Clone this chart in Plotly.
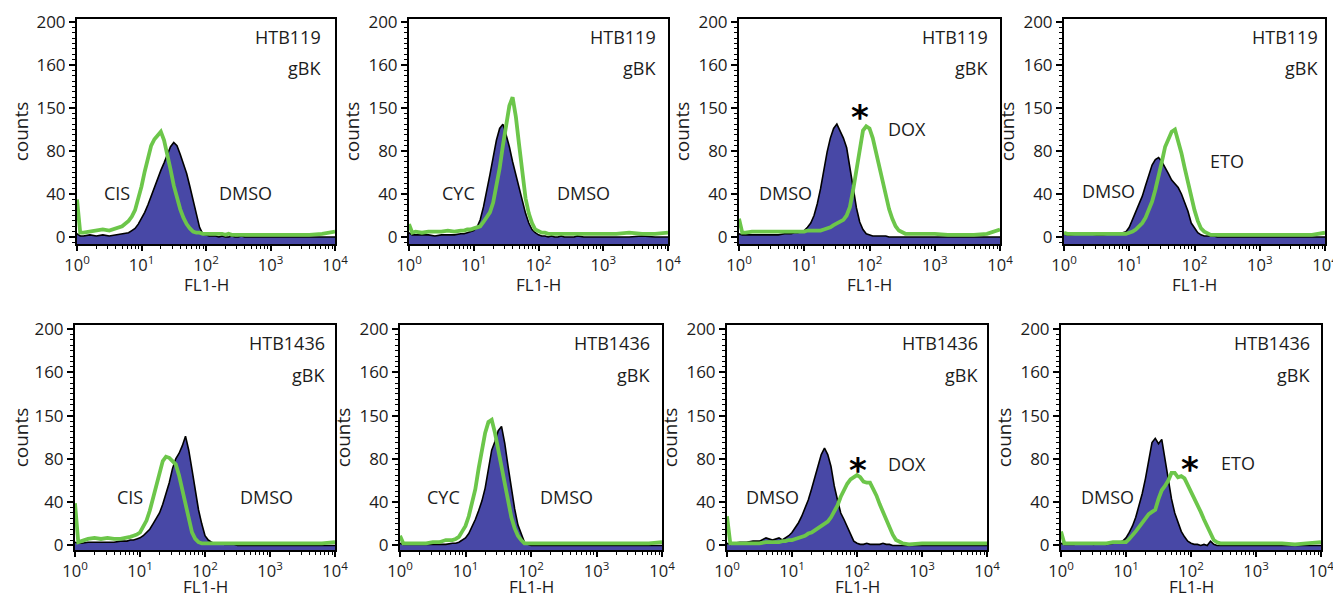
import plotly.graph_objects as go

W, H = 1341, 595

# Channel positions (log10 of FL1-H) shared by all histograms
LOG_X = [0.0, 0.05, 0.1, 0.2, 0.3, 0.4, 0.5, 0.6, 0.7, 0.8,
         0.85, 0.9, 0.95, 1.0, 1.05, 1.1, 1.15, 1.2, 1.25, 1.3,
         1.35, 1.4, 1.45, 1.5, 1.55, 1.6, 1.65, 1.7, 1.75, 1.8,
         1.85, 1.9, 1.95, 2.0, 2.05, 2.1, 2.15, 2.2, 2.25, 2.3,
         2.35, 2.4, 2.45, 2.5, 2.55, 2.6, 2.7, 2.8, 3.0, 3.2,
         3.4, 3.6, 3.8, 4.0]
FL1 = [10 ** v for v in LOG_X]

CELL_LINES = ["HTB119", "HTB119", "HTB119", "HTB119",
              "HTB1436", "HTB1436", "HTB1436", "HTB1436"]
TREATMENTS = ["CIS", "CYC", "DOX", "ETO", "CIS", "CYC", "DOX", "ETO"]
SIGNIFICANT = [False, False, True, False, False, False, True, True]

# DMSO (filled) histograms
HTB119_DMSO_CIS = [3,1,1,2,1,2,1,2,3,4, 6,8,12,17,23,30,38,46,55,62, 69,76,84,88,85,77,69,59,47,35,
                   23,9,3,2,1,1,1,0,1,0, 0,1,0,0,1,0,0,0,0,0, 0,0,0,0]
HTB119_DMSO_CYC = [4,2,2,2,2,1,2,2,2,3, 3,4,5,6,9,16,28,42,58,74, 90,101,105,95,84,70,58,45,33,22,
                   13,7,4,2,1,1,0,1,0,0, 1,0,0,0,0,1,0,0,0,0, 0,1,0,0]
HTB119_DMSO_DOX = [3,2,2,2,2,2,2,2,3,3, 4,4,5,6,9,13,20,31,45,63, 79,92,101,105,98,92,83,64,44,27,
                   14,7,3,2,1,1,1,1,1,0, 0,0,0,0,0,0,0,0,0,0, 0,0,0,0]
HTB119_DMSO_ETO = [3,2,2,3,4,3,2,2,3,3, 4,4,5,9,16,23,31,38,48,58, 67,72,74,70,65,59,53,49,46,40,
                   32,24,13,8,4,2,1,1,1,1, 0,0,0,0,0,0,0,0,0,0, 0,0,0,0]
HTB1436_DMSO_CIS = [3,2,2,3,3,3,3,3,4,4, 5,5,6,7,9,12,15,20,25,30, 38,47,58,71,80,85,92,101,88,70,
                    50,33,20,9,5,3,2,2,2,1, 1,1,1,0,0,0,0,0,0,0, 0,0,0,0]
HTB1436_DMSO_CYC = [2,1,1,1,1,1,1,1,1,2, 2,3,5,7,11,17,24,32,41,53, 72,88,96,106,110,94,73,53,34,19,
                    10,3,1,0,0,0,0,0,0,0, 0,0,0,0,0,0,0,0,0,0, 0,0,0,0]
HTB1436_DMSO_DOX = [2,1,2,3,3,4,4,7,5,7, 5,7,9,12,16,21,27,34,42,52, 63,75,84,90,84,73,55,42,30,24,
                    17,10,4,2,1,1,2,1,1,1, 1,2,1,1,0,0,0,0,0,0, 0,0,0,0]
HTB1436_DMSO_ETO = [2,1,1,1,2,2,1,2,1,2, 2,3,4,7,12,18,26,36,48,62, 80,95,99,94,98,79,59,43,30,21,
                    13,8,4,2,1,1,0,1,0,4, 1,0,0,0,0,0,0,0,0,0, 0,0,0,0]

# Drug-treated (green line) histograms
HTB119_CIS = [35,4,4,5,6,7,6,8,10,15, 19,25,35,47,61,75,85,91,95,98, 90,78,63,48,36,26,18,12,8,5,
              4,4,3,3,3,3,3,3,3,2, 3,2,2,2,2,2,2,2,2,2, 2,2,3,5]
HTB119_CYC = [12,4,5,4,5,5,5,6,5,6, 6,7,7,8,9,10,14,18,23,32, 46,64,85,104,122,130,112,86,58,36,
              22,13,7,5,4,4,3,3,3,3, 3,3,3,3,3,3,3,3,3,3, 4,3,3,4]
HTB119_DOX = [17,4,4,5,5,5,5,5,5,5, 5,5,5,5,6,6,6,6,6,7, 8,9,11,13,14,16,20,28,44,62,
              84,99,103,101,92,78,64,50,38,26, 17,10,6,4,3,3,3,3,3,2, 2,2,3,7]
HTB119_ETO = [4,3,3,3,3,3,3,3,3,3, 3,3,3,4,5,7,10,13,18,25, 33,44,56,70,84,92,98,100,90,78,
              64,50,37,25,15,8,5,3,2,2, 2,2,2,2,2,2,2,2,2,2, 2,2,2,4]
HTB1436_CIS = [39,3,4,6,7,6,7,6,6,7, 8,9,10,12,17,23,32,43,55,66, 78,82,81,78,75,65,52,36,23,12,
               6,3,2,2,2,2,2,2,2,2, 2,2,2,2,2,2,2,2,2,2, 2,2,2,3]
HTB1436_CYC = [9,2,2,2,2,2,3,3,5,5, 6,8,13,18,27,38,52,71,90,104, 114,116,104,88,72,55,40,26,16,9,
               5,2,2,2,2,2,2,2,2,2, 2,2,2,2,2,2,2,2,2,2, 2,2,2,3]
HTB1436_DOX = [27,2,2,2,2,2,2,3,3,3, 4,4,5,5,6,7,8,9,11,12, 14,16,18,20,22,26,31,37,45,52,
               57,61,63,65,63,59,58,58,52,46, 38,31,23,16,10,5,2,1,2,2, 2,2,2,2]
HTB1436_ETO = [13,2,2,2,2,2,2,2,2,3, 3,3,3,3,6,9,13,17,21,26, 29,31,33,43,51,55,60,67,67,63,
               64,62,56,50,44,37,31,24,17,10, 5,3,2,2,2,2,2,2,2,2, 2,1,2,3]

DMSO = [HTB119_DMSO_CIS, HTB119_DMSO_CYC, HTB119_DMSO_DOX, HTB119_DMSO_ETO,
        HTB1436_DMSO_CIS, HTB1436_DMSO_CYC, HTB1436_DMSO_DOX, HTB1436_DMSO_ETO]
TREATED = [HTB119_CIS, HTB119_CYC, HTB119_DOX, HTB119_ETO,
           HTB1436_CIS, HTB1436_CYC, HTB1436_DOX, HTB1436_ETO]

X_TICKVALS = [1, 10, 100, 1000, 10000]
X_TICKTEXT = ["10<sup>0</sup>", "10<sup>1</sup>", "10<sup>2</sup>", "10<sup>3</sup>", "10<sup>4</sup>"]
X_MINOR = [2, 3, 4, 5, 6, 7, 8, 9, 20, 30, 40, 50, 60, 70, 80, 90,
           200, 300, 400, 500, 600, 700, 800, 900, 2000, 3000, 4000, 5000, 6000, 7000, 8000, 9000]
Y_TICKVALS = [0, 40, 80, 120, 160, 200]
Y_TICKTEXT = ["0", "40", "80", "150", "160", "200"]

# ---- styling / layout ----
FONT = "Open Sans"
TXT = "#1c1c1c"
BLUE = "#4848a6"
GREEN = "#6cc64a"
OFFSET = 8  # page body margin of the html page

# panel boxes in screen pixels: (left, right, top, bottom)
BOXES = [(77, 335, 19, 244), (409, 668, 19, 244), (739, 1000, 19, 244), (1064, 1325, 19, 244),
         (75, 335, 325, 550), (400, 662, 325, 550), (727, 987, 325, 550), (1061, 1321, 325, 550)]
YRANGES = [[-6.5, 202.8]] * 4 + [[-4.2, 203.7]] * 4
XTITLE_Y = [284] * 4 + [586] * 4

# label positions in pixels: DMSO label, treatment label, asterisk
LABEL_POS = [
    ((245, 193), (117, 193), None),
    ((583, 193), (458, 193), None),
    ((785, 193), (907, 129), (860, 110)),
    ((1108, 191), (1227, 161), None),
    ((266, 497), (130, 497), None),
    ((566, 497), (443, 497), None),
    ((772, 497), (907, 464), (858, 463)),
    ((1107, 497), (1238, 463), (1190, 462)),
]
NAME_Y = [(37, 68)] * 4 + [(343, 375)] * 4
NAME_RIGHT = [323, 658, 990, 1320, 327, 652, 980, 1312]


def px(x):
    return (x - OFFSET) / W


def py(y):
    return 1 - (y - OFFSET) / H


fig = go.Figure()
layout = dict(
    width=W, height=H, margin=dict(l=0, r=0, t=0, b=0, autoexpand=False),
    paper_bgcolor="white", plot_bgcolor="white", showlegend=False,
    font=dict(family=FONT, size=17, color=TXT),
)
annotations = []

for i in range(8):
    n = i + 1
    xa = "x" if n == 1 else f"x{n}"
    ya = "y" if n == 1 else f"y{n}"
    l, r, t, b = BOXES[i]
    y_min = YRANGES[i][0]

    fig.add_trace(go.Scatter(x=FL1, y=[y_min] * len(FL1), xaxis=xa, yaxis=ya,
                             mode="lines", line=dict(width=0, color="rgba(0,0,0,0)"),
                             hoverinfo="skip"))
    fig.add_trace(go.Scatter(x=FL1, y=DMSO[i], xaxis=xa, yaxis=ya, mode="lines",
                             fill="tonexty", fillcolor=BLUE,
                             line=dict(color="black", width=1.6), name="DMSO"))
    fig.add_trace(go.Scatter(x=FL1, y=TREATED[i], xaxis=xa, yaxis=ya, mode="lines",
                             line=dict(color=GREEN, width=3.8), name=TREATMENTS[i]))

    layout["xaxis" if n == 1 else f"xaxis{n}"] = dict(
        type="log", range=[0, 4], domain=[px(l), px(r)], anchor=ya, automargin=False,
        tickmode="array", tickvals=X_TICKVALS, ticktext=X_TICKTEXT,
        ticks="outside", ticklen=5, tickwidth=1.5, tickcolor="black",
        minor=dict(ticks="outside", ticklen=3, tickwidth=1, tickcolor="black",
                   tickmode="array", tickvals=X_MINOR, showgrid=False),
        showline=True, linecolor="black", linewidth=2, mirror=True,
        showgrid=False, zeroline=False, fixedrange=True,
        tickfont=dict(size=16.5, color=TXT),
    )
    layout["yaxis" if n == 1 else f"yaxis{n}"] = dict(
        range=YRANGES[i], domain=[py(b), py(t)], anchor=xa, automargin=False,
        tickmode="array", tickvals=Y_TICKVALS, ticktext=Y_TICKTEXT,
        ticks="outside", ticklen=6, tickwidth=1.5, tickcolor="black",
        minor=dict(ticks="outside", ticklen=3, tickwidth=1, tickcolor="black", dtick=5, showgrid=False),
        showline=True, linecolor="black", linewidth=2, mirror=True,
        showgrid=False, zeroline=False, fixedrange=True,
        tickfont=dict(size=17, color=TXT),
        title=dict(text="counts", font=dict(size=19, color=TXT), standoff=4),
    )

    # x axis title
    annotations.append(dict(text="FL1-H", x=px((l + r) / 2), y=py(XTITLE_Y[i]),
                            xref="paper", yref="paper", xanchor="center", yanchor="middle",
                            showarrow=False, font=dict(size=17, color=TXT)))
    # cell line and antibody
    annotations.append(dict(text=CELL_LINES[i], x=px(NAME_RIGHT[i]), y=py(NAME_Y[i][0]),
                            xref="paper", yref="paper", xanchor="right", yanchor="middle",
                            showarrow=False, font=dict(size=18, color=TXT)))
    annotations.append(dict(text="gBK", x=px(NAME_RIGHT[i]), y=py(NAME_Y[i][1]),
                            xref="paper", yref="paper", xanchor="right", yanchor="middle",
                            showarrow=False, font=dict(size=18, color=TXT)))
    dpos, tpos, spos = LABEL_POS[i]
    annotations.append(dict(text="DMSO", x=px(dpos[0]), y=py(dpos[1]), xref="paper", yref="paper",
                            xanchor="center", yanchor="middle", showarrow=False,
                            font=dict(size=18, color=TXT)))
    annotations.append(dict(text=TREATMENTS[i], x=px(tpos[0]), y=py(tpos[1]), xref="paper", yref="paper",
                            xanchor="center", yanchor="middle", showarrow=False,
                            font=dict(size=18, color=TXT)))
    if SIGNIFICANT[i] and spos is not None:
        annotations.append(dict(text="<b>*</b>", x=px(spos[0]), y=py(spos[1] + 7), xref="paper", yref="paper",
                                xanchor="center", yanchor="middle", showarrow=False,
                                font=dict(size=34, color="black", family="DejaVu Sans")))

layout["annotations"] = annotations
fig.update_layout(**layout)
fig.write_html("out.html")
